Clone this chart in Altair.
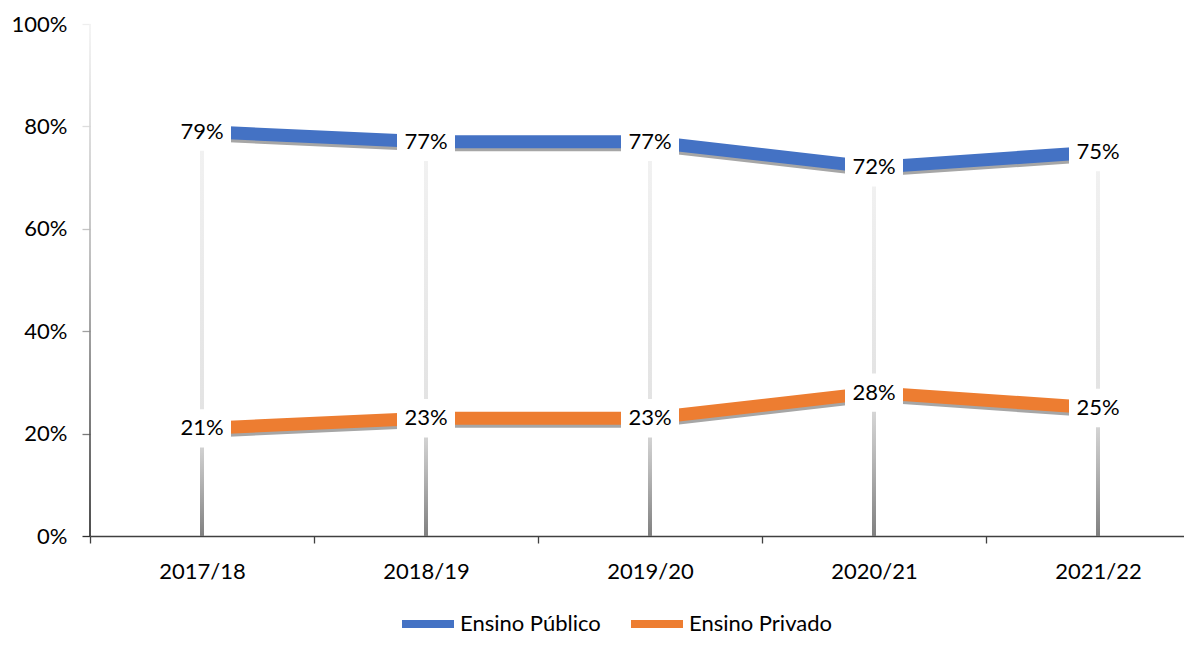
import altair as alt
import pandas as pd

categorias = ["2017/18", "2018/19", "2019/20", "2020/21", "2021/22"]
publico = [0.79, 0.77, 0.77, 0.72, 0.75]
privado = [0.21, 0.23, 0.23, 0.28, 0.25]
series = ["Ensino Público", "Ensino Privado"]
cores = ["#4472C4", "#ED7D31"]
ticks_y = [0, 0.2, 0.4, 0.6, 0.8, 1.0]

FONT = "Lato"

wide = pd.DataFrame({"ano": categorias, "publico": publico, "privado": privado})
long = pd.DataFrame({
    "ano": categorias * 2,
    "serie": [series[0]] * len(categorias) + [series[1]] * len(categorias),
    "valor": publico + privado,
})

xscale = alt.Scale(type="band", paddingInner=0, paddingOuter=0)
x_axis = alt.Axis(
    title=None, labelAngle=0, tickBand="extent", labelFont=FONT, labelFontSize=22,
    labelColor="#000000", tickSize=7, tickColor="#404040", tickWidth=1.3,
    domainColor="#404040", domainWidth=1.5, labelPadding=18, grid=False,
)
X = alt.X("ano:N", sort=categorias, scale=xscale, axis=x_axis)

yscale = alt.Scale(domain=[0, 1], nice=False, zero=True)
tick_color = {
    "condition": [
        {"test": "datum.value >= 0.99", "value": "#eeeeee"},
        {"test": "datum.value >= 0.79", "value": "#dddddd"},
        {"test": "datum.value >= 0.59", "value": "#c4c4c4"},
        {"test": "datum.value >= 0.39", "value": "#a0a0a0"},
        {"test": "datum.value >= 0.19", "value": "#7a7a7a"},
    ],
    "value": "#303030",
}
y_axis = alt.Axis(
    title=None, format=".0%", values=ticks_y, labelFont=FONT, labelFontSize=22,
    labelColor="#000000", tickSize=8, tickColor=tick_color, tickWidth=1.3,
    domain=False, grid=False, labelPadding=15,
)

grad_lower = alt.Gradient(
    gradient="linear", x1=0, x2=0, y1=0, y2=1,
    stops=[alt.GradientStop(color="#e2e2e2", offset=0),
           alt.GradientStop(color="#b8b8b8", offset=0.45),
           alt.GradientStop(color="#808080", offset=1)],
)
grad_upper = alt.Gradient(
    gradient="linear", x1=0, x2=0, y1=0, y2=1,
    stops=[alt.GradientStop(color="#f2f2f2", offset=0),
           alt.GradientStop(color="#e2e2e2", offset=1)],
)
grad_axis = alt.Gradient(
    gradient="linear", x1=0, x2=0, y1=0, y2=1,
    stops=[alt.GradientStop(color="#f2f2f2", offset=0),
           alt.GradientStop(color="#b0b0b0", offset=0.45),
           alt.GradientStop(color="#202020", offset=1)],
)

base_w = alt.Chart(wide)

drop_lower = base_w.mark_bar(size=4, color=grad_lower).encode(
    x=X, y=alt.Y("privado:Q", scale=yscale, axis=y_axis), y2=alt.datum(0)
)
drop_upper = base_w.mark_bar(size=4, color=grad_upper).encode(
    x=X, y=alt.Y("publico:Q", scale=yscale, axis=y_axis), y2="privado:Q"
)

axis_line = alt.Chart(pd.DataFrame({"v": [0]})).mark_rect(color=grad_axis).encode(
    x=alt.value(-0.8), x2=alt.value(0.8),
    y=alt.datum(1, scale=yscale), y2=alt.datum(0),
)

base_l = alt.Chart(long)
Y = alt.Y("valor:Q", scale=yscale, axis=y_axis)

shadow = base_l.mark_line(strokeWidth=13, color="#a6a6a6", yOffset=3, strokeCap="butt",
                          strokeJoin="bevel").encode(
    x=X, y=Y, detail="serie:N"
)
lines = base_l.mark_line(strokeWidth=13, strokeCap="butt", strokeJoin="bevel").encode(
    x=X, y=Y,
    color=alt.Color(
        "serie:N", sort=series,
        scale=alt.Scale(domain=series, range=cores),
        legend=alt.Legend(
            title=None, orient="none", direction="horizontal", legendX=308, legendY=570,
            symbolType="M-1,0L1,0", symbolSize=2704, symbolStrokeWidth=8,
            labelFont=FONT, labelFontSize=22, labelColor="#000000", labelOffset=2,
            columnPadding=14,
            symbolFillColor="transparent",
        ),
    ),
)

boxes = base_l.mark_point(
    shape="M-1,-0.66L1,-0.66L1,0.66L-1,0.66Z", size=3364, filled=True,
    color="white", opacity=1, strokeWidth=0,
).encode(x=X, y=Y)

labels = base_l.mark_text(font=FONT, fontSize=22, color="#000000", baseline="middle").encode(
    x=X, y=Y, text=alt.Text("valor:Q", format=".0%")
)

# view is 1120 wide (224 px per year); negative right padding crops the svg inside the window
chart = alt.layer(axis_line, drop_lower, drop_upper, shadow, lines, boxes, labels).properties(
    width=1120, height=512,
    autosize=alt.AutoSizeParams(type="none"),
    padding=alt.expr("{left: 82, top: 16, right: -26, bottom: 100}"),
    background="white",
).configure_view(stroke=None)

chart.save("out.html", embed_options={"renderer": "svg", "actions": False})
